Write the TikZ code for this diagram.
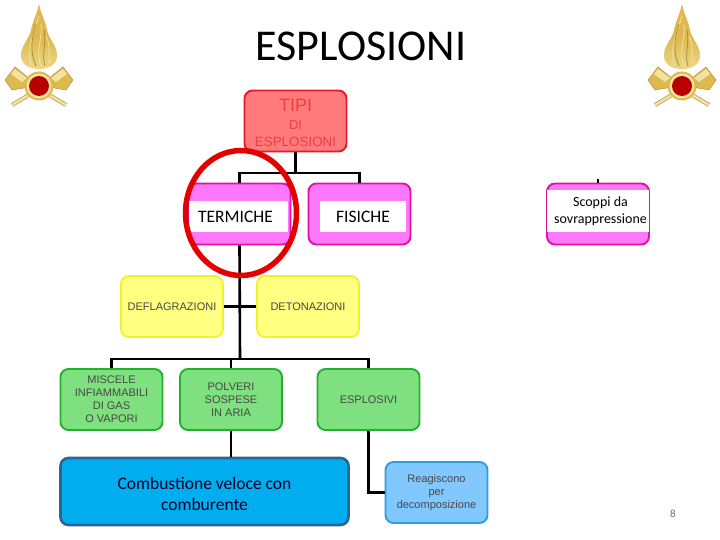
\documentclass[tikz,border=0pt]{standalone}
\usepackage{fontspec}
\usetikzlibrary{shapes.geometric}
\setmainfont{Carlito}
\newfontfamily\boxfont{Liberation Sans}
\definecolor{pinkfill}{HTML}{FF78FA}
\definecolor{pinkline}{HTML}{E010A8}
\definecolor{redfill}{HTML}{FF7B7B}
\definecolor{redline}{HTML}{E8182F}
\definecolor{redtext}{HTML}{E84040}
\definecolor{yelfill}{HTML}{FFFF80}
\definecolor{yelline}{HTML}{F0F030}
\definecolor{grnfill}{HTML}{7FE07F}
\definecolor{grnline}{HTML}{22B02E}
\definecolor{bluefill}{HTML}{00AEEF}
\definecolor{blueline}{HTML}{2A6496}
\definecolor{skyfill}{HTML}{80C8FF}
\definecolor{skyline}{HTML}{2A9DE8}
\definecolor{gold}{HTML}{DDB94E}
\definecolor{golddark}{HTML}{A98530}
\definecolor{goldlight}{HTML}{F3E3A0}
\tikzset{
  x=1pt,y=-1pt,
  bx/.style={rounded corners=8pt,line width=1.9pt,minimum width=#1,minimum height=61pt,inner sep=0pt,align=center,
    font=\boxfont\fontsize{11}{13}\selectfont,text=black!72},
  bx/.default=102pt,
  pinkbox/.style={bx,draw=pinkline,fill=pinkfill},
  redbox/.style={bx,draw=redline,fill=redfill,text=redtext},
  yelbox/.style={bx,draw=yelline,fill=yelfill},
  grnbox/.style={bx,draw=grnline,fill=grnfill},
  skybox/.style={bx,draw=skyline,fill=skyfill},
  conn/.style={line width=2.6pt,black,line join=miter},
  whitelabel/.style={fill=white,inner sep=0pt,align=center,text=black},
  pics/emblem/.style={code={
    % crossed axes
    \draw[line width=4pt,golddark!80] (-27,19) -- (25,-12);
    \draw[line width=4pt,golddark!80] (27,19) -- (-25,-12);
    \draw[line width=2.4pt,goldlight] (-27,19) -- (25,-12);
    \draw[line width=2.4pt,goldlight] (27,19) -- (-25,-12);
    \fill[gold,draw=golddark,line width=.4pt] (-34,-6) -- (-24,-19) -- (-9,-7) -- (-15,2) -- (-27,4) -- cycle;
    \fill[gold,draw=golddark,line width=.4pt] (34,-6) -- (24,-19) -- (9,-7) -- (15,2) -- (27,4) -- cycle;
    \fill[goldlight] (-24,-17) -- (-12,-8) -- (-17,-4) -- (-28,-12) -- cycle;
    \fill[goldlight] (24,-17) -- (12,-8) -- (17,-4) -- (28,-12) -- cycle;
    % flame
    \shade[top color=gold,bottom color=goldlight!70!gold,middle color=gold]
      (0,-82) .. controls (2,-72) and (6,-66) .. (8,-56)
      .. controls (10,-46) and (19,-40) .. (18,-29)
      .. controls (17,-20) and (8,-17) .. (0,-17)
      .. controls (-8,-17) and (-17,-20) .. (-18,-29)
      .. controls (-19,-40) and (-10,-46) .. (-8,-56)
      .. controls (-6,-66) and (-2,-72) .. (0,-82) -- cycle;
    \draw[goldlight,line width=.8pt] (0,-70) .. controls (-6,-50) and (-12,-38) .. (-8,-21);
    \draw[goldlight,line width=.8pt] (2,-62) .. controls (4,-48) and (-4,-36) .. (2,-20);
    \draw[goldlight,line width=.8pt] (7,-50) .. controls (13,-38) and (8,-30) .. (11,-22);
    \draw[golddark,line width=.7pt] (-3,-62) .. controls (-8,-46) and (-9,-34) .. (-3,-20);
    \draw[golddark,line width=.7pt] (5,-56) .. controls (8,-42) and (2,-32) .. (6,-20);
    % roundel
    \fill[gold] (0,0) circle (14.5);
    \fill[goldlight] (0,0) circle (12.5);
    \fill[red!72!black] (0,0) circle (10);
  }}
}
\begin{document}
\begin{tikzpicture}
\useasboundingbox (0,0) rectangle (720,540);
\fill[white] (0,0) rectangle (720,540);

\node[font=\fontsize{44}{48}\selectfont,text=black,inner sep=0pt] (title) at (361,46) {ESPLOSIONI};

\pic at (39,86) {emblem};
\pic at (682,86) {emblem};

% boxes
\node[redbox,font=\boxfont] (tipi) at (295.5,121) {\rule{0pt}{17pt}\fontsize{18}{17}\selectfont TIPI\\[6pt]\fontsize{13}{17}\selectfont DI\\[5pt]\fontsize{13.4}{17}\selectfont ESPLOSIONI};
\node[pinkbox] (termiche) at (239.5,214) {};
\node[pinkbox] (fisiche) at (359.5,214) {};
\node[pinkbox] (scoppi) at (598,214) {};
\node[yelbox] (defl) at (172,306.5) {DEFLAGRAZIONI};
\node[yelbox] (deto) at (308,306.5) {DETONAZIONI};
\node[grnbox] (misc) at (111.5,399.5) {MISCELE\\INFIAMMABILI\\DI GAS\\O VAPORI};
\node[grnbox] (polv) at (231,399.5) {POLVERI\\SOSPESE\\IN ARIA};
\node[grnbox] (espl) at (368.5,399.5) {ESPLOSIVI};
\node[bx=288pt,draw=blueline,fill=bluefill,line width=2.6pt,minimum height=67pt,text=black!85!blue,font=\fontsize{17.5}{21}\selectfont] (comb) at (204.5,491.5) {\rule{0pt}{17pt}Combustione veloce con\\comburente};
\node[skybox] (reag) at (436.5,492.5) {Reagiscono\\per\\decomposizione};

% white label strips
\node[whitelabel,minimum width=99pt,minimum height=31pt,font=\fontsize{17.5}{19}\selectfont] (termlab) at (238.5,216.5) {TERMICHE\kern6pt};
\node[whitelabel,minimum width=86pt,minimum height=31pt,font=\fontsize{17.5}{19}\selectfont] (fislab) at (363,216.5) {FISICHE};
\node[whitelabel,minimum width=102pt,minimum height=42pt,font=\fontsize{14}{17}\selectfont] (scolab) at (598,211) {\kern5pt Scoppi da\\\kern5pt sovrappressione};

% connectors
\coordinate (hub) at (240,359);
\coordinate (tipibus) at (295.5,173);
\coordinate (scostub) at (598,179);
\draw[conn] (tipi.south) -- (tipibus);
\draw[conn] (termiche.north) |- (tipibus) -| (fisiche.north);
\draw[conn] (termiche.south) -- (hub);
\draw[conn] (defl.east) -- (deto.west);
\draw[conn] (misc.north) |- (hub) -| (espl.north);
\draw[conn] (polv.north) -- (polv.north |- hub);
\draw[conn] (polv.south) -- (comb.north -| polv.south);
\draw[conn] (espl.south) |- (reag.west);
\draw[conn] (scostub) -- (scoppi.north);

% highlight ring
\node[draw=red!90!black,line width=5.5pt,ellipse,minimum width=111pt,minimum height=125pt,inner sep=0pt] (ring) at (241,213) {};

\node[text=black!55,font=\fontsize{11}{13}\selectfont,inner sep=0pt] (pageno) at (673,514) {8};
\end{tikzpicture}
\end{document}
